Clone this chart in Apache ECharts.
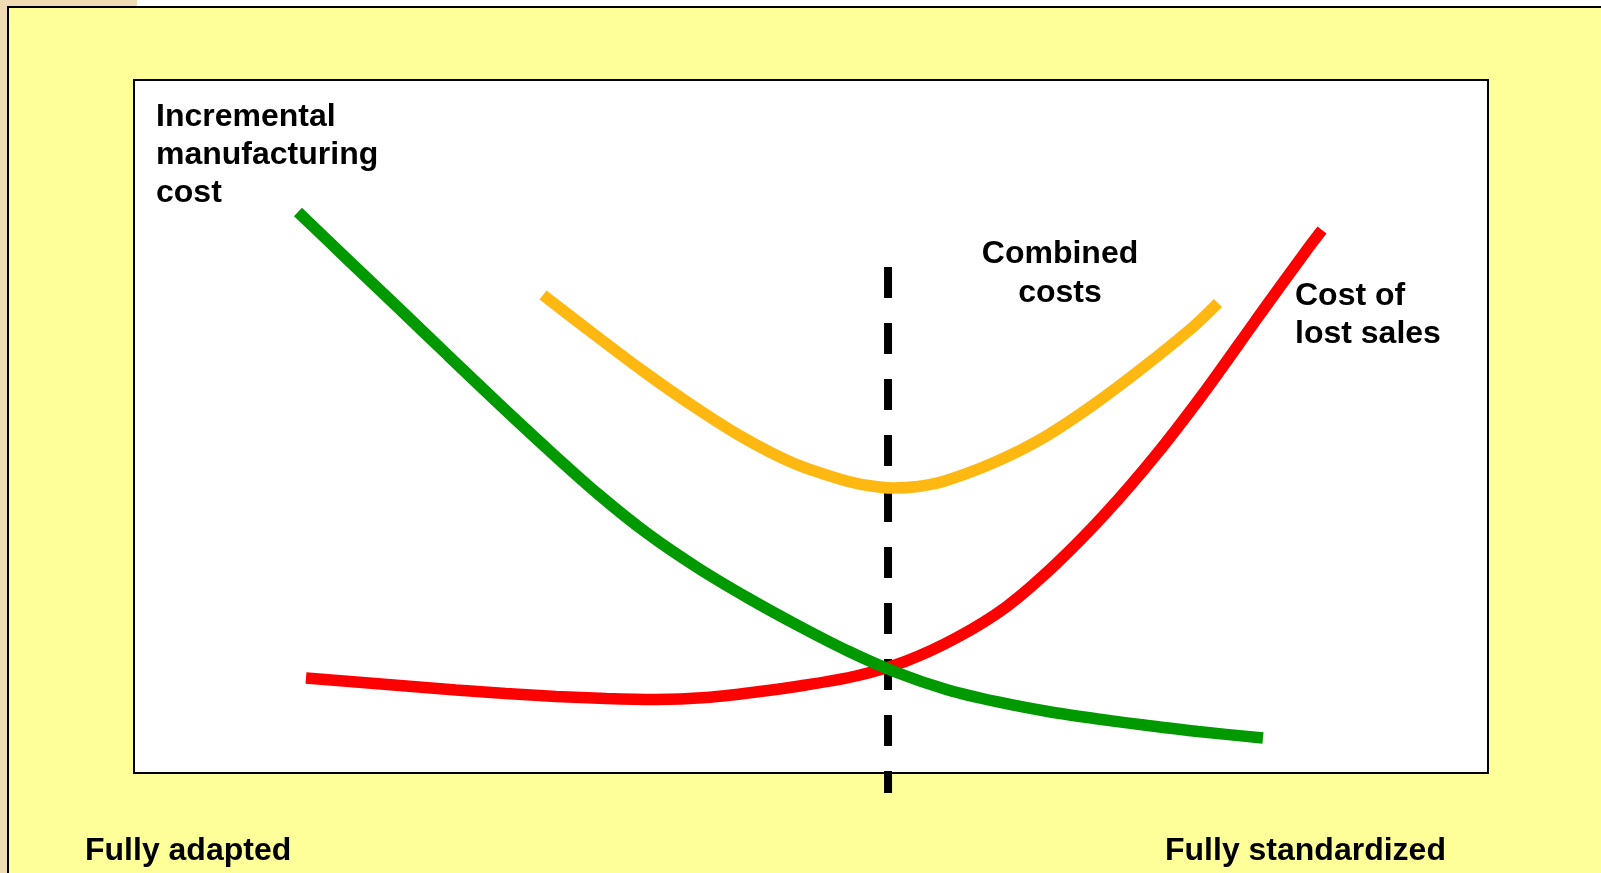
<!DOCTYPE html>
<html>
<head>
<meta charset="utf-8">
<script src="https://cdn.jsdelivr.net/npm/echarts@6/dist/echarts.min.js"></script>
<style>
html,body{margin:0;padding:0;background:#FFFF99;}
#chart{width:1601px;height:873px;}
</style>
</head>
<body>
<div id="chart"></div>
<script>
// Curves: [degree of standardization, cost] in arbitrary units (0-100)
var manufacturingCost = [
  [12.11, 80.95], [15.81, 74.03], [19.50, 67.17], [23.19, 60.25], [26.88, 53.39],
  [30.58, 46.68], [34.27, 40.26], [37.96, 34.49], [41.65, 29.58], [45.35, 25.25],
  [49.04, 21.28], [52.73, 17.60], [56.43, 14.43], [60.12, 11.98], [63.81, 10.25],
  [67.50, 8.87], [71.20, 7.79], [74.89, 6.85], [78.58, 5.99], [83.38, 5.05]
];
var lostSalesCost = [
  [12.70, 13.71], [16.40, 13.13], [20.09, 12.55], [23.78, 11.98], [27.47, 11.47],
  [31.17, 11.04], [34.86, 10.75], [38.55, 10.61], [42.25, 10.89], [45.94, 11.69],
  [49.63, 12.70], [53.32, 14.00], [57.02, 16.16], [60.71, 19.48], [64.40, 23.95],
  [68.09, 30.16], [71.79, 37.52], [75.48, 45.89], [79.17, 55.27], [82.87, 65.37],
  [86.56, 75.32], [87.74, 78.35]
];
var combinedCosts = [
  [30.21, 68.98], [33.90, 63.42], [37.59, 58.01], [41.29, 52.96], [44.98, 48.41],
  [48.67, 44.73], [52.36, 42.28], [54.21, 41.49], [56.06, 41.13], [57.90, 41.34],
  [59.75, 42.06], [63.44, 44.73], [67.13, 48.34], [70.83, 53.10], [74.52, 58.51],
  [78.21, 64.36], [80.06, 67.82]
];
var optimumLine = [[55.69, 73.0], [55.69, -2.9]];

var labels = {
  manufacturing: 'Incremental\nmanufacturing\ncost',
  combined: 'Combined\ncosts',
  lostSales: 'Cost of\nlost sales',
  left: 'Fully adapted',
  right: 'Fully standardized'
};

var chart = echarts.init(document.getElementById('chart'), null, {renderer: 'canvas'});
var FONT = 'bold 32px "Liberation Sans", Arial, sans-serif';
var option = {
  backgroundColor: '#FFFF99',
  animation: false,
  grid: {
    left: 134, top: 80, width: 1354, height: 693,
    show: true, backgroundColor: '#FFFFFF', borderColor: '#000000', borderWidth: 2,
    containLabel: false
  },
  xAxis: {type: 'value', min: 0, max: 100, show: false},
  yAxis: {type: 'value', min: 0, max: 100, show: false},
  graphic: [
    {type: 'rect', z: -1, shape: {x: 0, y: 0, width: 1601, height: 7}, style: {fill: '#FFFFFF'}},
    {type: 'rect', z: -1, shape: {x: 0, y: 0, width: 137, height: 7}, style: {fill: '#EFDBB4'}},
    {type: 'rect', z: -1, shape: {x: 0, y: 0, width: 7, height: 873}, style: {fill: '#EFDBB4'}},
    {type: 'line', z: -1, shape: {x1: 7, y1: 7, x2: 1601, y2: 7}, style: {stroke: '#000', lineWidth: 2}},
    {type: 'line', z: -1, shape: {x1: 8, y1: 7, x2: 8, y2: 873}, style: {stroke: '#000', lineWidth: 2}},
    {type: 'text', z: 10, x: 156, y: 98, style: {text: labels.manufacturing, font: FONT, fill: '#000', lineHeight: 38, textAlign: 'left', textVerticalAlign: 'top'}},
    {type: 'text', z: 10, x: 1060, y: 235, style: {text: labels.combined, font: FONT, fill: '#000', lineHeight: 39, textAlign: 'center', textVerticalAlign: 'top'}},
    {type: 'text', z: 10, x: 1295, y: 277, style: {text: labels.lostSales, font: FONT, fill: '#000', lineHeight: 38, textAlign: 'left', textVerticalAlign: 'top'}},
    {type: 'text', z: 10, x: 85, y: 832, style: {text: labels.left, font: FONT, fill: '#000', lineHeight: 38, textAlign: 'left', textVerticalAlign: 'top'}},
    {type: 'text', z: 10, x: 1165, y: 832, style: {text: labels.right, font: FONT, fill: '#000', lineHeight: 38, textAlign: 'left', textVerticalAlign: 'top'}}
  ],
  series: [
    {
      name: 'Optimum', type: 'line', data: optimumLine, clip: false, z: 1,
      showSymbol: false, symbol: 'none',
      lineStyle: {color: '#000000', width: 8, type: [31, 25], cap: 'butt'}
    },
    {
      name: 'Cost of lost sales', type: 'line', data: lostSalesCost, smooth: 0.3, z: 2,
      showSymbol: false, symbol: 'none',
      lineStyle: {color: '#FF0000', width: 11.5, cap: 'butt'}
    },
    {
      name: 'Combined costs', type: 'line', data: combinedCosts, smooth: 0.3, z: 3,
      showSymbol: false, symbol: 'none',
      lineStyle: {color: '#FFB812', width: 11.5, cap: 'butt'}
    },
    {
      name: 'Incremental manufacturing cost', type: 'line', data: manufacturingCost, smooth: 0.3, z: 4,
      showSymbol: false, symbol: 'none',
      lineStyle: {color: '#009900', width: 11.5, cap: 'butt'}
    }
  ]
};
chart.setOption(option);
</script>
</body>
</html>
